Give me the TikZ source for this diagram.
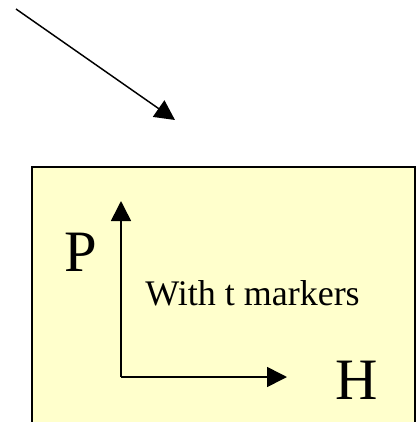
\documentclass[tikz,border=0pt]{standalone}
\usepackage{fontspec}
\setmainfont{Liberation Serif}
\usetikzlibrary{arrows.meta}
\definecolor{boxfill}{RGB}{255,255,204}

\begin{document}
\begin{tikzpicture}[x=0.75pt,y=-0.75pt,>={Triangle[length=15pt,width=15pt]},
  every node/.append style={inner sep=0pt},
  axislabel/.style={font=\fontsize{44}{48}\selectfont},
  axisline/.style={->,line width=1.2pt}]
  \clip (0,0) rectangle (419,422);
  \fill[white] (0,0) rectangle (419,422);
  % pointer
  \coordinate (src) at (16,9);
  \coordinate (dst) at (175,120);
  \draw[->,line width=1.1pt] (src) -- (dst);

  % panel
  \draw[fill=boxfill,line width=1.6pt] (32,440) -- (32,167) -- (415,167) -- (415,440);

  \coordinate (origin) at (121,377);
  \coordinate (ptop) at (121,201);
  \coordinate (hend) at (287,377);
  \draw[axisline] (origin) -- (ptop);
  \draw[axisline] (origin) -- (hend);
  \node[axislabel] (plabel) at (81,252) {P};
  \node[axislabel] (hlabel) at (356.5,380) {H};
  \node[font=\fontsize{27}{30}\selectfont] (note) at (252.5,293.5) {With t markers};
\end{tikzpicture}
\end{document}
